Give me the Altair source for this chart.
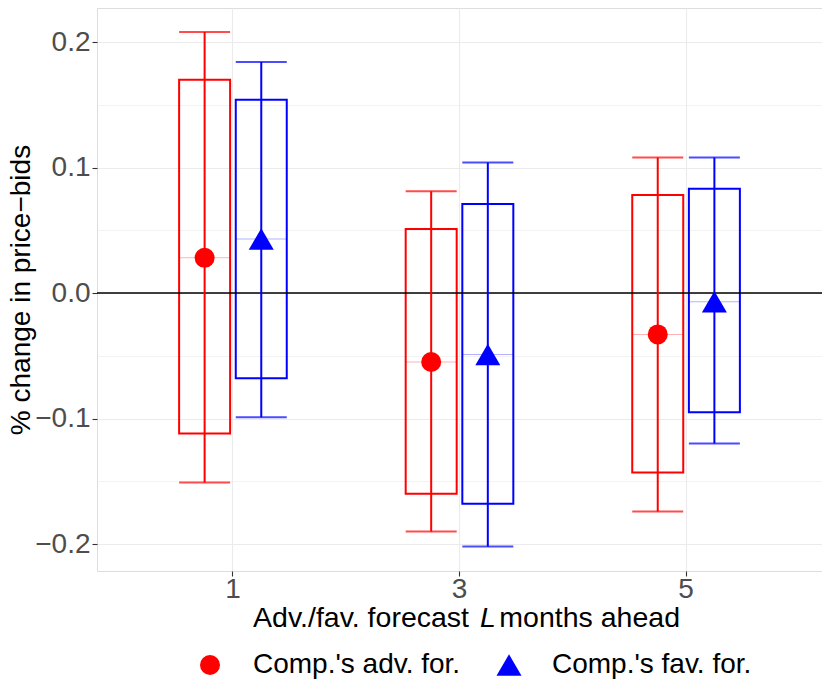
import altair as alt
import pandas as pd

# ---- data ----
L_values = ["1", "3", "5"]
series_names = ["Comp.'s adv. for.", "Comp.'s fav. for."]

adv_est = [0.028, -0.055, -0.033]
adv_box_lo = [-0.112, -0.160, -0.143]
adv_box_hi = [0.170, 0.051, 0.078]
adv_ci_lo = [-0.151, -0.190, -0.174]
adv_ci_hi = [0.208, 0.081, 0.108]

fav_est = [0.043, -0.049, -0.007]
fav_box_lo = [-0.068, -0.168, -0.095]
fav_box_hi = [0.154, 0.071, 0.083]
fav_ci_lo = [-0.099, -0.202, -0.120]
fav_ci_hi = [0.184, 0.104, 0.108]

y_ticks = [-0.2, -0.15, -0.1, -0.05, 0.0, 0.05, 0.1, 0.15, 0.2]
zero_line = [0.0]
x_title_parts = ["Adv./fav. forecast", "L", "months ahead"]
y_title = "% change in price\u2212bids"

rows = []
for s, est, blo, bhi, clo, chi in [
    (series_names[0], adv_est, adv_box_lo, adv_box_hi, adv_ci_lo, adv_ci_hi),
    (series_names[1], fav_est, fav_box_lo, fav_box_hi, fav_ci_lo, fav_ci_hi),
]:
    for i, l in enumerate(L_values):
        rows.append(dict(L=l, series=s, est=est[i], box_lo=blo[i], box_hi=bhi[i],
                         ci_lo=clo[i], ci_hi=chi[i]))
df = pd.DataFrame(rows)

FONT = "Liberation Sans"
colors = ["#FF0000", "#0000FF"]
shapes = ["circle", "triangle-up"]
sizes = [400, 625]

W, H = 725, 563
minor_test = "abs(round(datum.value*100)) % 10 == 5"

x_enc = alt.X(
    "L:N",
    scale=alt.Scale(domain=L_values, paddingInner=0, paddingOuter=0.1),
    axis=alt.Axis(title=None, labelAngle=0, grid=True, gridColor="#ebebeb", gridWidth=1.1,
                  labelFont=FONT, labelFontSize=28, labelColor="#4d4d4d", labelPadding=-1,
                  tickColor="#333333", tickSize=5, tickWidth=1.1, domain=False),
)
xo_enc = alt.XOffset("series:N", scale=alt.Scale(domain=series_names, paddingInner=0, paddingOuter=1.0))
y_scale = alt.Scale(domain=[-0.2215, 0.2271], nice=False, zero=False)
y_axis = alt.Axis(
    values=y_ticks,
    title=y_title,
    titleFont=FONT, titleFontSize=28, titleFontWeight="normal", titleColor="black", titlePadding=-1,
    labelFont=FONT, labelFontSize=28, labelColor="#4d4d4d", labelPadding=2,
    labelExpr=minor_test + " ? '' : replace(format(datum.value, '.1f'), '-', '\u2212')",
    grid=True, gridColor="#ebebeb",
    gridWidth={"condition": {"test": minor_test, "value": 0.6}, "value": 1.1},
    tickColor="#333333", tickSize=5, tickWidth=1.1,
    tickOpacity={"condition": {"test": minor_test, "value": 0}, "value": 1},
    domain=False,
)
# stroke/fill scales list the series in reverse order so that they are not merged
# (and disabled) together with the point legend
stroke_enc = alt.Stroke("series:N", scale=alt.Scale(domain=series_names[::-1], range=colors[::-1]), legend=None)
fill_enc = alt.Fill("series:N", scale=alt.Scale(domain=series_names[::-1], range=colors[::-1]), legend=None)

base = alt.Chart(df)

boxes = base.mark_bar(fillOpacity=0, strokeWidth=2, width=51).encode(
    x=x_enc, xOffset=xo_enc,
    y=alt.Y("box_lo:Q", scale=y_scale, axis=y_axis), y2="box_hi:Q",
    stroke=stroke_enc,
)
median = base.mark_tick(thickness=1, size=51, opacity=0.3).encode(
    x=x_enc, xOffset=xo_enc, y=alt.Y("est:Q", scale=y_scale), fill=fill_enc,
)
zero = alt.Chart(pd.DataFrame({"z": zero_line})).mark_rule(color="black", strokeWidth=1.3).encode(
    y=alt.Y("z:Q", scale=y_scale)
)
whisk = base.mark_rule(strokeWidth=2).encode(
    x=x_enc, xOffset=xo_enc, y=alt.Y("ci_lo:Q", scale=y_scale), y2="ci_hi:Q", stroke=stroke_enc,
)
cap_lo = base.mark_tick(thickness=2, size=51).encode(
    x=x_enc, xOffset=xo_enc, y=alt.Y("ci_lo:Q", scale=y_scale), fill=fill_enc,
)
cap_hi = base.mark_tick(thickness=2, size=51).encode(
    x=x_enc, xOffset=xo_enc, y=alt.Y("ci_hi:Q", scale=y_scale), fill=fill_enc,
)

leg = alt.Legend(title=None, orient="none", legendX=99, legendY=643, direction="horizontal",
                 columns=2, labelFont=FONT, labelFontSize=28, labelColor="black", labelLimit=0,
                 labelOffset=29, columnPadding=34, padding=0, symbolStrokeWidth=0)
points = base.mark_point(filled=True, opacity=1).encode(
    x=x_enc, xOffset=xo_enc, y=alt.Y("est:Q", scale=y_scale),
    color=alt.Color("series:N", scale=alt.Scale(domain=series_names, range=colors), legend=leg),
    shape=alt.Shape("series:N", scale=alt.Scale(domain=series_names, range=shapes), legend=leg),
    size=alt.Size("series:N", scale=alt.Scale(domain=series_names, range=sizes), legend=leg),
)

t1 = alt.Chart(pd.DataFrame({"t": [x_title_parts[0]]})).mark_text(
    font=FONT, fontSize=28.5, align="right", baseline="alphabetic", color="black"
).encode(text="t:N", x=alt.value(372), y=alt.value(619))
t2 = alt.Chart(pd.DataFrame({"t": [x_title_parts[1]]})).mark_text(
    font=FONT, fontSize=28.5, fontStyle="italic", align="left", baseline="alphabetic", color="black"
).encode(text="t:N", x=alt.value(383), y=alt.value(619))
t3 = alt.Chart(pd.DataFrame({"t": [x_title_parts[2]]})).mark_text(
    font=FONT, fontSize=28.5, align="right", baseline="alphabetic", color="black"
).encode(text="t:N", x=alt.value(583), y=alt.value(619))

chart = alt.layer(boxes, median, zero, whisk, cap_lo, cap_hi, points, t1, t2, t3).properties(
    width=W, height=H,
    autosize=alt.AutoSizeParams(type="none"),
    padding={"left": 89, "top": 0, "right": 0, "bottom": 113},
).configure_view(stroke="#555555", strokeWidth=1.1).configure(background="white")

chart.save("out.html", embed_options={"renderer": "svg", "actions": False})
